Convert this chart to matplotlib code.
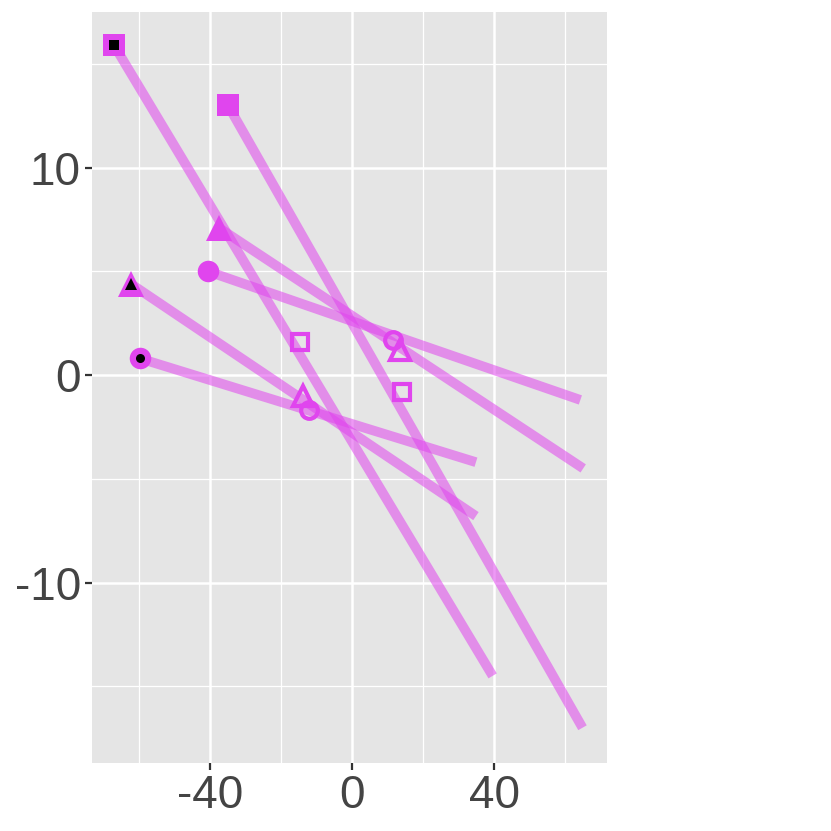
import matplotlib
matplotlib.use("Agg")
import matplotlib.pyplot as plt

# segment data: start, end, and the open-marker point
x_start = [-67.0, -34.9, -37.5, -62.3, -40.6, -59.7]
y_start = [15.9, 13.0, 7.1, 4.4, 5.0, 0.8]
x_end = [39.6, 64.9, 65.1, 34.9, 64.3, 34.9]
y_end = [-14.5, -17.0, -4.5, -6.8, -1.2, -4.2]
x_mid = [-14.6, 14.1, 13.5, -13.8, 11.5, -12.0]
y_mid = [1.6, -0.8, 1.2, -1.0, 1.7, -1.7]
shapes = ["s", "s", "^", "^", "o", "o"]
inner_black = [True, False, False, True, False, True]

x_ticks = [-40, 0, 40]
y_ticks = [-10, 0, 10]

col = "#E045EE"
fig = plt.figure(figsize=(8.31, 8.31), dpi=100)
ax = fig.add_axes([92/831, 68/831, 515/831, 751/831])
ax.set_facecolor("#E5E5E5")
ax.set_xlim(-73.2, 71.8)
ax.set_ylim(-18.7, 17.5)

for v in [-60, -20, 20, 60]:
    ax.axvline(v, color="white", lw=0.9, zorder=0)
for v in [-15, -5, 5, 15]:
    ax.axhline(v, color="white", lw=0.9, zorder=0)
for v in x_ticks:
    ax.axvline(v, color="white", lw=1.8, zorder=0)
for v in y_ticks:
    ax.axhline(v, color="white", lw=1.8, zorder=0)

for i in range(len(x_start)):
    ax.plot([x_start[i], x_end[i]], [y_start[i], y_end[i]], color=col,
            alpha=0.55, lw=7.0, solid_capstyle="butt", zorder=2)
for i in range(len(x_start)):
    sz = {"s": 15.5, "^": 19, "o": 15.5}[shapes[i]]
    ax.plot(x_start[i], y_start[i], marker=shapes[i], ms=sz, color=col,
            mec=col, mew=0, zorder=3, ls="none")
    if inner_black[i]:
        isz = {"s": 6.5, "^": 8.5, "o": 6.5}[shapes[i]]
        ax.plot(x_start[i], y_start[i], marker=shapes[i], ms=isz, color="black",
                mew=0, zorder=4, ls="none")
    osz = {"s": 12, "^": 14, "o": 12}[shapes[i]]
    ax.plot(x_mid[i], y_mid[i], marker=shapes[i], ms=osz, mfc="none", mec=col,
            mew=3.0, zorder=3, ls="none")

ax.set_xticks(x_ticks)
ax.set_yticks(y_ticks)
ax.set_xticklabels([str(v) for v in x_ticks])
ax.set_yticklabels([str(v) for v in y_ticks])
ax.tick_params(axis="both", length=5, width=1.6, color="#333333",
               labelsize=33, labelcolor="#444444", pad=3)
for lab in ax.get_xticklabels() + ax.get_yticklabels():
    lab.set_family("Liberation Sans")
for s in ax.spines.values():
    s.set_visible(False)

fig.savefig("out.png", dpi=100)
